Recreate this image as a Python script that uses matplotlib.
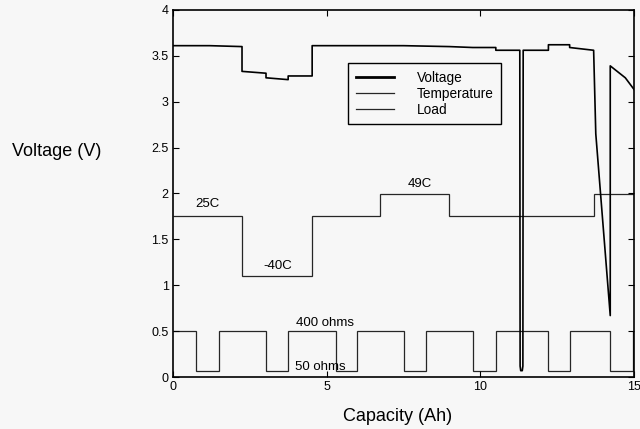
import matplotlib
matplotlib.use("Agg")
import matplotlib.pyplot as plt
import numpy as np

# battery voltage trace (Ah, V)
cap_v = [0, 1.2, 2.25, 2.25, 3.03, 3.03, 3.75, 3.75, 4.53, 4.53, 7.5, 8.99, 8.99,
         9.75, 9.75, 10.50, 10.50, 11.28, 11.29, 11.31, 11.36, 11.38, 11.39, 12.21,
         12.21, 12.90, 12.90, 13.68, 13.75, 14.22, 14.22, 14.71, 15.0]
volts = [3.61, 3.61, 3.60, 3.33, 3.31, 3.26, 3.24, 3.28, 3.28, 3.61, 3.61, 3.60, 3.60,
         3.59, 3.59, 3.59, 3.56, 3.56, 0.12, 0.07, 0.07, 0.12, 3.56, 3.56,
         3.62, 3.62, 3.59, 3.56, 2.65, 0.67, 3.39, 3.26, 3.13]

# temperature schedule (deg C)
temp_edges = [0, 2.25, 4.53, 6.74, 8.99, 13.68, 15]
temps = [25, -40, 25, 49, 25, 49]

# load schedule (ohms)
load_edges = [0, 0.75, 1.50, 3.03, 3.75, 5.29, 5.98, 7.52, 8.23, 9.75, 10.50,
              12.21, 12.90, 14.22, 14.96, 15]
loads = [400, 50, 400, 50, 400, 50, 400, 50, 400, 50, 400, 50, 400, 50, 400]

bg = "#f7f7f7"
plt.rcParams["font.family"] = ["Liberation Sans", "DejaVu Sans"]

fig = plt.figure(figsize=(6.4, 4.29), dpi=100, facecolor=bg)
ax = fig.add_axes([0.270, 0.121, 0.721, 0.856], facecolor=bg)

# temperature and load are plotted on the voltage scale
temp_scaled = 1.5 + np.array(temps) / 100.0
load_scaled = np.array(loads) / 800.0

ax.plot(cap_v, volts, color="black", lw=1.2, label="Voltage")
ax.stairs(temp_scaled, temp_edges, baseline=None, color="#262626", lw=0.9,
          label="Temperature")
ax.stairs(load_scaled, load_edges, baseline=None, color="#262626", lw=0.9,
          label="Load")

ax.set_xlim(0, 15)
ax.set_ylim(0, 4)
ax.set_xticks([0, 5, 10, 15])
ax.set_xticklabels(["0", "5", "10", "15"])
ax.set_yticks(np.arange(0, 4.01, 0.5))
ax.set_yticklabels(["0", "0.5", "1", "1.5", "2", "2.5", "3", "3.5", "4"])
ax.tick_params(direction="in", top=True, right=True, length=4, width=0.8,
               labelsize=9, pad=3)
for s in ax.spines.values():
    s.set_linewidth(1.2)

ax.text(1.14, 1.88, "25C", fontsize=9.5, ha="center", va="center")
ax.text(3.42, 1.21, "-40C", fontsize=9.5, ha="center", va="center")
ax.text(8.04, 2.10, "49C", fontsize=9.5, ha="center", va="center")
ax.text(4.95, 0.59, "400 ohms", fontsize=9.5, ha="center", va="center")
ax.text(4.80, 0.11, "50 ohms", fontsize=9.5, ha="center", va="center")

ax.set_xlabel("Capacity (Ah)", fontsize=13, labelpad=10)
ax.xaxis.set_label_coords(0.488, -0.085)
fig.text(12 / 640, 1 - 151 / 429, "Voltage (V)", fontsize=13, ha="left",
         va="center")

leg = ax.legend(loc="upper left", bbox_to_anchor=(0.380, 0.855), fontsize=9.8,
                frameon=True, fancybox=False, edgecolor="black",
                facecolor=bg, framealpha=1, handlelength=2.8,
                handletextpad=1.7, borderpad=0.55, labelspacing=0.15,
                borderaxespad=0)
leg.get_frame().set_linewidth(1.0)
leg.get_lines()[0].set_linewidth(2.0)

fig.savefig("out.png", dpi=100, facecolor=bg)
